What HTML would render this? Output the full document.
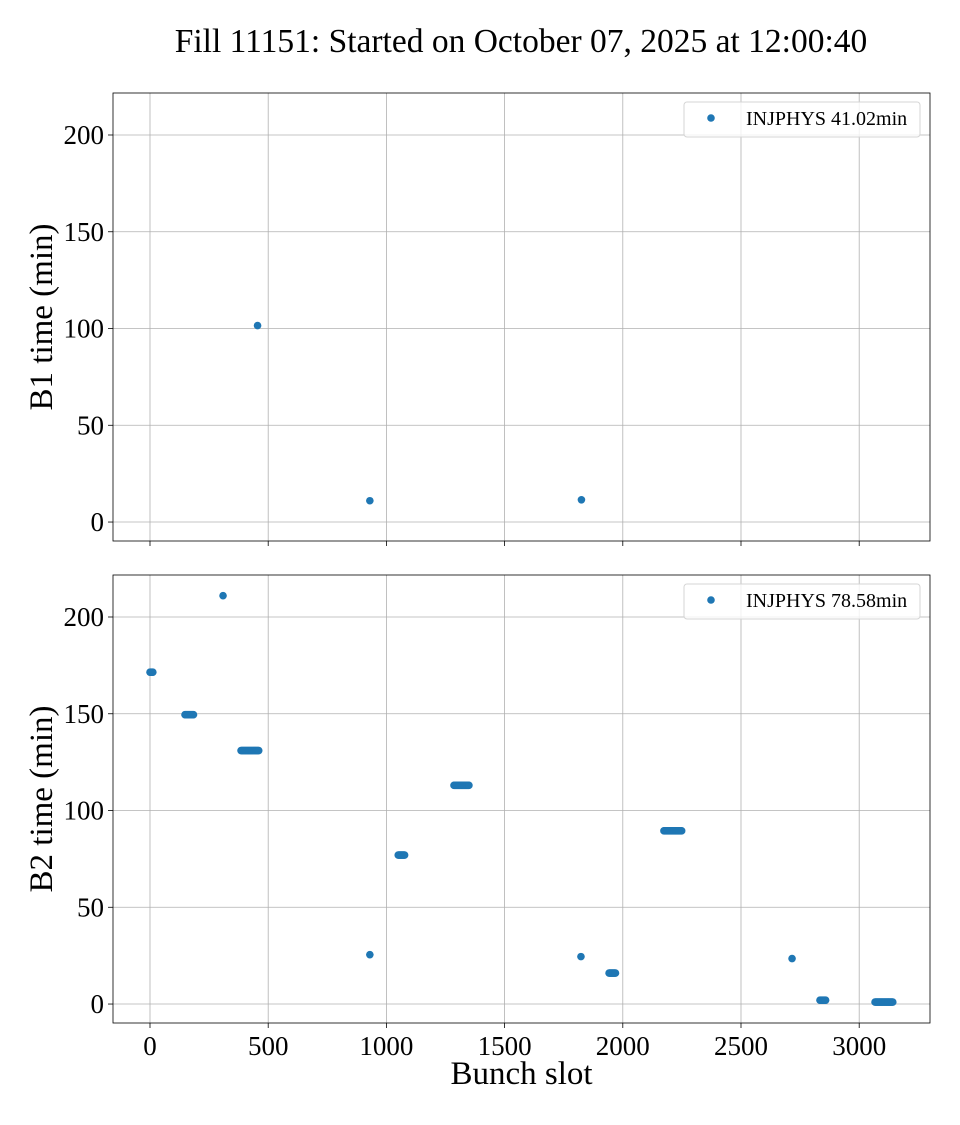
<!DOCTYPE html>
<html><head><meta charset="utf-8">
<style>
html,body{margin:0;padding:0;background:#fff;}
svg text{font-family:"Liberation Serif","DejaVu Serif",serif;fill:#000;}
</style></head>
<body>
<svg id="chart" width="960" height="1120" xmlns="http://www.w3.org/2000/svg">
<text x="521" y="52" font-size="33.5" text-anchor="middle">Fill 11151: Started on October 07, 2025 at 12:00:40</text>
<g id="top"></g>
<g id="bot"></g>
</svg>
<script>
const xTicks = [0, 500, 1000, 1500, 2000, 2500, 3000];
const yTicks = [0, 50, 100, 150, 200];
const b1Slots = [455, 930, 1825];
const b1Times = [101.5, 11, 11.5];
const b2PointSlots = [309, 930, 1823, 2716];
const b2PointTimes = [211, 25.5, 24.5, 23.5];
const b2ClusterStart = [0, 148, 385, 1050, 1286, 1942, 2174, 2834, 3067];
const b2ClusterEnd = [12, 186, 461, 1078, 1350, 1971, 2250, 2860, 3143];
const b2ClusterTimes = [171.5, 149.5, 131, 77, 113, 16, 89.5, 2, 1];
const legend1 = "INJPHYS 41.02min";
const legend2 = "INJPHYS 78.58min";

const NS = "http://www.w3.org/2000/svg";
const X0 = 113, X1 = 930, XMIN = -156.5, XMAX = 3299.5;
const YMIN = -9.8, YMAX = 221.7;
function xs(v){ return X0 + (v - XMIN) / (XMAX - XMIN) * (X1 - X0); }
function mk(tag, attrs, parent){ const e = document.createElementNS(NS, tag); for (const k in attrs) e.setAttribute(k, attrs[k]); parent.appendChild(e); return e; }

function panel(g, top, bottom, showX, ylabel, legendText, slots, times, clusters){
  const ys = v => bottom - (v - YMIN) / (YMAX - YMIN) * (bottom - top);
  xTicks.forEach(t => {
    const l = mk('line', {x1: xs(t), x2: xs(t), y1: top, y2: bottom, stroke: '#b0b0b0', 'stroke-width': 0.8}, g);
    
    
    const tk = mk('line', {x1: xs(t), x2: xs(t), y1: bottom, y2: bottom + 5, stroke: '#000', 'stroke-width': 0.8}, g);
    
    
    if (showX) {
      const tx = mk('text', {x: xs(t), y: bottom + 32, 'font-size': 27, 'text-anchor': 'middle'}, g);
      tx.textContent = t;
      
      
    }
  });
  yTicks.forEach(t => {
    const l = mk('line', {x1: X0, x2: X1, y1: ys(t), y2: ys(t), stroke: '#b0b0b0', 'stroke-width': 0.8}, g);
    
    
    const tk = mk('line', {x1: X0 - 5, x2: X0, y1: ys(t), y2: ys(t), stroke: '#000', 'stroke-width': 0.8}, g);
    
    
    const tx = mk('text', {x: X0 - 9, y: ys(t) + 9, 'font-size': 27, 'text-anchor': 'end'}, g);
    tx.textContent = t;
    
    
  });
  const fr = mk('rect', {x: X0, y: top, width: X1 - X0, height: bottom - top, fill: 'none', stroke: '#000', 'stroke-width': 0.8}, g);
  
  
  const yl = mk('text', {x: 0, y: 0, 'font-size': 33, 'text-anchor': 'middle', transform: `translate(52,${(top + bottom) / 2}) rotate(-90)`}, g);
  yl.textContent = ylabel;
  
  
  slots.forEach((s, i) => {
    const c = mk('circle', {cx: xs(s), cy: ys(times[i]), r: 3.8, fill: '#1f77b4'}, g);
    
    
  });
  if (clusters) {
    clusters.start.forEach((s, i) => {
      for (let v = s; v <= clusters.end[i]; v += 3) {
        const c = mk('circle', {cx: xs(v), cy: ys(clusters.times[i]), r: 3.8, fill: '#1f77b4'}, g);
        
        
      }
    });
  }
  const lg = mk('g', {}, g);
  
  
  mk('rect', {x: 684, y: top + 9, width: 236, height: 35, rx: 3, fill: '#fff', 'fill-opacity': 0.8, stroke: '#d5d5d5', 'stroke-width': 1}, lg);
  mk('circle', {cx: 711, cy: top + 25, r: 3.8, fill: '#1f77b4'}, lg);
  const lt = mk('text', {x: 746, y: top + 32, 'font-size': 20}, lg);
  lt.textContent = legendText;
  
  
  if (showX) {
    const xl = mk('text', {x: (X0 + X1) / 2, y: bottom + 61, 'font-size': 33, 'text-anchor': 'middle'}, g);
    xl.textContent = 'Bunch slot';
    
    
  }
}
panel(document.getElementById('top'), 93, 541, false, 'B1 time (min)', legend1, b1Slots, b1Times, null);
panel(document.getElementById('bot'), 575, 1023, true, 'B2 time (min)', legend2, b2PointSlots, b2PointTimes,
  {start: b2ClusterStart, end: b2ClusterEnd, times: b2ClusterTimes});
</script>
</body></html>
